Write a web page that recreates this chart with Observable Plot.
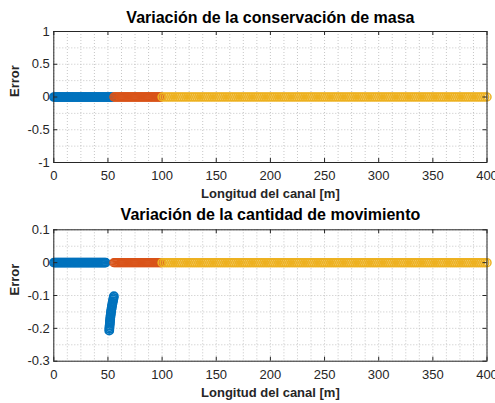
<!DOCTYPE html>
<html><head><meta charset="utf-8">
<script src="https://cdn.jsdelivr.net/npm/d3@7"></script>
<script src="https://cdn.jsdelivr.net/npm/@observablehq/plot@0.6"></script>
<style>body{margin:0;background:#fff} #c svg{display:block}</style>
</head><body><div id="c"></div>
<script>
// ---- texts ----
const titleTop = "Variación de la conservación de masa";
const titleBot = "Variación de la cantidad de movimiento";
const xLabel = "Longitud del canal [m]";
const yLabel = "Error";

// ---- ticks ----
const xTicks = [0, 50, 100, 150, 200, 250, 300, 350, 400];
const xGrid = [0, 12.5, 25, 37.5, 50, 62.5, 75, 87.5, 100, 112.5, 125, 137.5, 150, 162.5, 175, 187.5, 200, 212.5, 225, 237.5, 250, 262.5, 275, 287.5, 300, 312.5, 325, 337.5, 350, 362.5, 375, 387.5, 400];
const yTicksTop = [-1, -0.5, 0, 0.5, 1];
const yGridTop = [-1, -0.75, -0.5, -0.25, 0, 0.25, 0.5, 0.75, 1];
const yTicksBot = [-0.3, -0.2, -0.1, 0, 0.1];
const yGridBot = [-0.3, -0.25, -0.2, -0.15, -0.1, -0.05, 0, 0.05, 0.1];

// ---- data: top subplot (all errors = 0) ----
const blueTopX = [0,1,2,3,4,5,6,7,8,9,10,11,12,13,14,15,16,17,18,19,20,21,22,23,24,25,26,27,28,29,30,31,32,33,34,35,36,37,38,39,40,41,42,43,44,45,46,47,48,49,50,51,52,53,54];
const orangeTopX = [55.5,56.5,57.5,58.5,59.5,60.5,61.5,62.5,63.5,64.5,65.5,66.5,67.5,68.5,69.5,70.5,71.5,72.5,73.5,74.5,75.5,76.5,77.5,78.5,79.5,80.5,81.5,82.5,83.5,84.5,85.5,86.5,87.5,88.5,89.5,90.5,91.5,92.5,93.5,94.5,95.5,96.5,97.5,98.5,99];
const yellowTopX = [100,102,104,106,108,110,112,114,116,118,120,122,124,126,128,130,132,134,136,138,140,142,144,146,148,150,152,154,156,158,160,162,164,166,168,170,172,174,176,178,180,182,184,186,188,190,192,194,196,198,200,202,204,206,208,210,212,214,216,218,220,222,224,226,228,230,232,234,236,238,240,242,244,246,248,250,252,254,256,258,260,262,264,266,268,270,272,274,276,278,280,282,284,286,288,290,292,294,296,298,300,302,304,306,308,310,312,314,316,318,320,322,324,326,328,330,332,334,336,338,340,342,344,346,348,350,352,354,356,358,360,362,364,366,368,370,372,374,376,378,380,382,384,386,388,390,392,394,396,398,400];

// ---- data: bottom subplot ----
const blueBotX = [0,1,2,3,4,5,6,7,8,9,10,11,12,13,14,15,16,17,18,19,20,21,22,23,24,25,26,27,28,29,30,31,32,33,34,35,36,37,38,39,40,41,42,43,44,45,46,47,48];
const blueBotJumpX = [51.2,51.3,51.4,51.5,51.7,51.8,51.9,52.1,52.2,52.4,52.6,52.8,53.0,53.2,53.5,53.7,54.0,54.3,54.6,54.9,55.2,55.5];
const blueBotJumpY = [-0.207,-0.202,-0.197,-0.192,-0.187,-0.182,-0.177,-0.172,-0.167,-0.162,-0.157,-0.152,-0.147,-0.142,-0.137,-0.132,-0.127,-0.122,-0.117,-0.112,-0.107,-0.102];
const orangeBotX = [55.5,56.5,57.5,58.5,59.5,60.5,61.5,62.5,63.5,64.5,65.5,66.5,67.5,68.5,69.5,70.5,71.5,72.5,73.5,74.5,75.5,76.5,77.5,78.5,79.5,80.5,81.5,82.5,83.5,84.5,85.5,86.5,87.5,88.5,89.5,90.5,91.5,92.5,93.5,94.5,95.5,96.5,97.5,98.5,99];
const yellowBotX = yellowTopX.slice();

const C = {blue: "#0072BD", orange: "#D95319", yellow: "#EDB120"};
const FONT = "'Liberation Sans', Arial, Helvetica, sans-serif";

function subplot({height, mt, mb, title, titleDy, yDomain, yTicks, yGrid, series}) {
  const ml = 53.3, mr = 8.5, W = 495;
  const iw = W - ml - mr, ih = height - mt - mb;
  const marks = [
    Plot.gridX(xGrid, {stroke: "#b8b8b8", strokeOpacity: 1, strokeDasharray: "1,2", strokeWidth: 0.8}),
    Plot.gridY(yGrid, {stroke: "#b8b8b8", strokeOpacity: 1, strokeDasharray: "1,2", strokeWidth: 0.8}),
  ];
  for (const s of series) {
    marks.push(Plot.dot(s.x, {x: d => d, y: s.y ? (d, i) => s.y[i] : 0, r: 4, stroke: s.color, strokeWidth: s.sw || 1.3, fill: "none", clip: false}));
  }
  marks.push(
    Plot.frame({stroke: "#262626", strokeWidth: 1}),
    Plot.tickX(xTicks, {x: d => d, insetTop: ih - 4, stroke: "#262626"}),
    Plot.tickX(xTicks, {x: d => d, insetBottom: ih - 4, stroke: "#262626"}),
    Plot.tickY(yTicks, {y: d => d, insetRight: iw - 4, stroke: "#262626"}),
    Plot.tickY(yTicks, {y: d => d, insetLeft: iw - 4, stroke: "#262626"}),
    Plot.axisX(xTicks, {tickSize: 0, tickPadding: 8.5, tickFormat: d => String(d), label: null, fontSize: 13, fill: "#262626"}),
    Plot.axisY(yTicks, {tickSize: 0, tickPadding: 4, tickFormat: d => String(d), label: null, fontSize: 13, fill: "#262626"}),
    Plot.text([title], {text: d => d, frameAnchor: "top", dy: titleDy, lineAnchor: "bottom", fontSize: 16, fontWeight: "bold", fill: "#000"}),
    Plot.text([xLabel], {text: d => d, frameAnchor: "bottom", dy: 35.7, lineAnchor: "bottom", fontSize: 13, fontWeight: "bold", fill: "#262626"}),
    Plot.text([yLabel], {text: d => d, frameAnchor: "left", dx: -39, rotate: -90, fontSize: 13, fontWeight: "bold", fill: "#262626"})
  );
  return Plot.plot({
    width: W, height,
    marginLeft: ml, marginRight: mr, marginTop: mt, marginBottom: mb,
    x: {domain: [0, 400]},
    y: {domain: yDomain},
    style: {fontFamily: FONT, fontSize: "13px", color: "#262626", background: "white", overflow: "visible"},
    marks
  });
}

const plotTop = subplot({
  height: 200, mt: 31, mb: 38, title: titleTop, titleDy: -8.3,
  yDomain: [-1, 1], yTicks: yTicksTop, yGrid: yGridTop,
  series: [
    {x: blueTopX, color: C.blue, sw: 1.6},
    {x: orangeTopX, color: C.orange, sw: 1.3},
    {x: yellowTopX, color: C.yellow, sw: 1.5}
  ]
});
const plotBot = subplot({
  height: 203, mt: 29.3, mb: 42.3, title: titleBot, titleDy: -10,
  yDomain: [-0.3, 0.1], yTicks: yTicksBot, yGrid: yGridBot,
  series: [
    {x: blueBotX, color: C.blue, sw: 1.6},
    {x: blueBotJumpX, y: blueBotJumpY, color: C.blue, sw: 1.8},
    {x: orangeBotX, color: C.orange, sw: 1.3},
    {x: yellowBotX, color: C.yellow, sw: 1.5}
  ]
});
document.getElementById("c").append(plotTop, plotBot);
</script>
</body></html>
